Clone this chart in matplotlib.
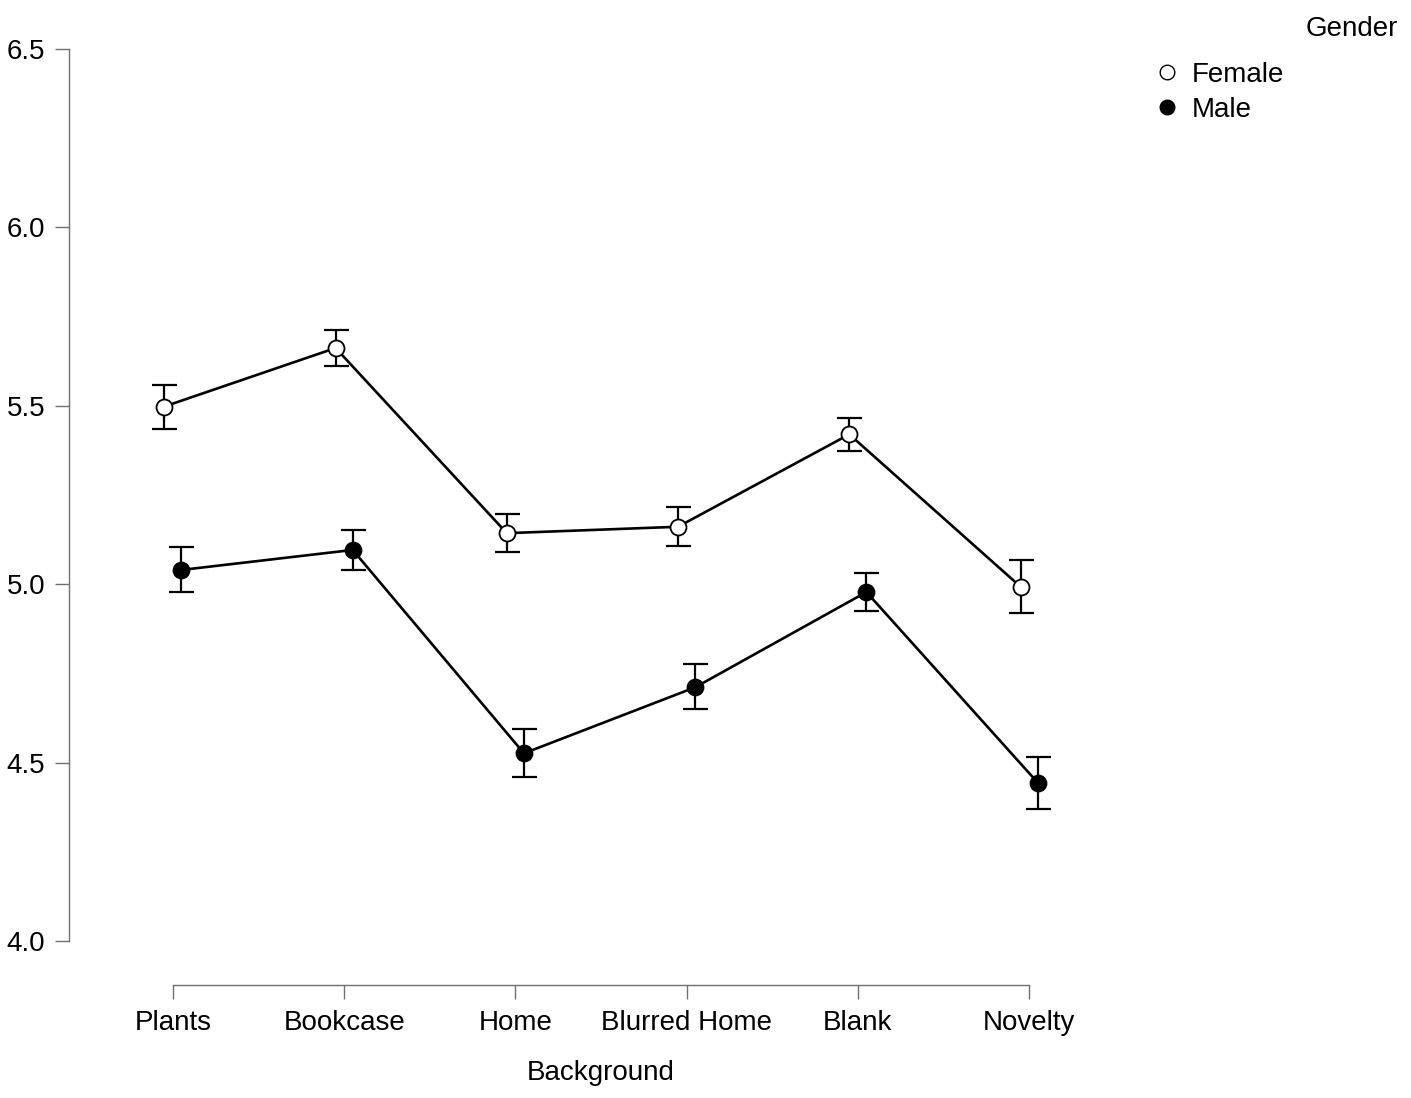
import matplotlib
matplotlib.use('Agg')
import matplotlib.pyplot as plt
import numpy as np
from matplotlib.lines import Line2D

plt.rcParams['font.family'] = ['Liberation Sans', 'DejaVu Sans']

backgrounds = ['Plants', 'Bookcase', 'Home', 'Blurred Home', 'Blank', 'Novelty']

female_mean = [5.498, 5.662, 5.143, 5.161, 5.420, 4.993]
female_lo = [5.435, 5.612, 5.090, 5.107, 5.372, 4.919]
female_hi = [5.558, 5.713, 5.197, 5.216, 5.465, 5.068]

male_mean = [5.040, 5.096, 4.526, 4.711, 4.978, 4.444]
male_lo = [4.978, 5.041, 4.461, 4.650, 4.924, 4.371]
male_hi = [5.103, 5.151, 4.593, 4.776, 5.031, 4.517]

yticks = [4.0, 4.5, 5.0, 5.5, 6.0, 6.5]


def draw_series(ax, x, mean, lo, hi, face):
    mean = np.array(mean)
    err = [mean - np.array(lo), np.array(hi) - mean]
    ax.errorbar(x, mean, yerr=err, fmt='none', ecolor='black',
                elinewidth=1.6, capsize=9, capthick=1.6, zorder=2)
    ax.plot(x, mean, color='black', linewidth=1.9, zorder=3)
    ax.plot(x, mean, linestyle='none', marker='o', markersize=11.5,
            markerfacecolor=face, markeredgecolor='black',
            markeredgewidth=1.3, zorder=4)


def main():
    W, H = 1411, 1098
    fig = plt.figure(figsize=(W / 100, H / 100), dpi=100)
    left, right = 69, 1133
    top, bottom = 49, 941
    ax = fig.add_axes([left / W, 1 - bottom / H, (right - left) / W,
                       (bottom - top) / H])

    x = np.arange(len(backgrounds))
    draw_series(ax, x - 0.05, female_mean, female_lo, female_hi, 'white')
    draw_series(ax, x + 0.05, male_mean, male_lo, male_hi, 'black')

    ax.set_xlim(-0.607, 5.607)
    ax.set_ylim(4.0, 6.5)
    ax.set_xticks(x)
    ax.set_xticklabels(backgrounds)
    ax.set_yticks(yticks)
    ax.set_yticklabels(['%.1f' % t for t in yticks])

    for s in ['top', 'right']:
        ax.spines[s].set_visible(False)
    ax.spines['left'].set_bounds(4.0, 6.5)
    ax.spines['bottom'].set_bounds(0, 5)
    ax.spines['bottom'].set_position(('outward', 31.7))
    for s in ['left', 'bottom']:
        ax.spines[s].set_color('#707070')
        ax.spines[s].set_linewidth(1.0)
    ax.tick_params(axis='both', color='#707070', width=1.0, length=10,
                   labelsize=20, labelcolor='black')
    ax.tick_params(axis='y', pad=7)
    ax.tick_params(axis='x', pad=8)
    ax.set_xlabel('Background', fontsize=20, labelpad=17)

    handles = [
        Line2D([], [], linestyle='none', marker='o', markersize=10.5,
               markerfacecolor='white', markeredgecolor='black',
               markeredgewidth=1.0),
        Line2D([], [], linestyle='none', marker='o', markersize=10.5,
               markerfacecolor='black', markeredgecolor='black'),
    ]
    fig.legend(handles, ['Female', 'Male'], loc='upper left',
               bbox_to_anchor=(1154.5 / W, 1 - 62 / H), frameon=False,
               fontsize=20, handlelength=0.9, handletextpad=0.45,
               borderpad=0, borderaxespad=0, labelspacing=0.32)
    fig.text(1398 / W, 1 - 29 / H, 'Gender', fontsize=20, ha='right',
             va='center')

    fig.savefig('out.png', dpi=100)


if __name__ == '__main__':
    main()
